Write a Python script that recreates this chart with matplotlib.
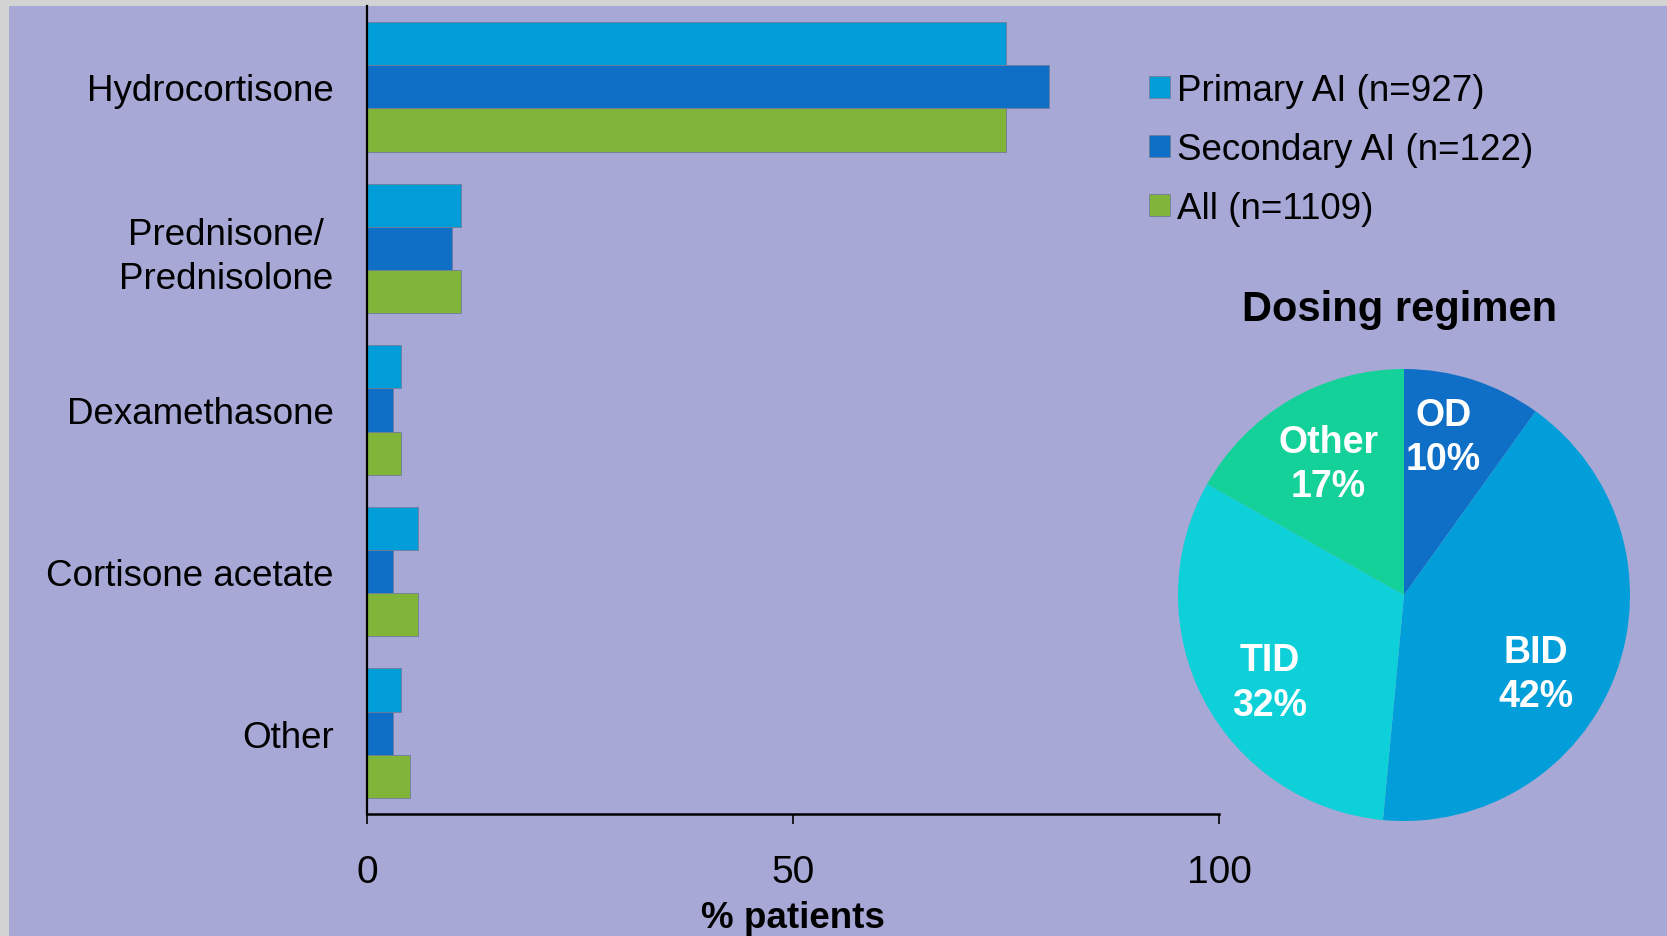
import numpy as np
import matplotlib
matplotlib.use("Agg")
import matplotlib.pyplot as plt
from matplotlib.patches import Rectangle, Patch

plt.rcParams['font.family'] = ['Liberation Sans', 'DejaVu Sans']

# bar chart data (% patients)
drugs = ["Hydrocortisone", "Prednisone/ \nPrednisolone", "Dexamethasone",
         "Cortisone acetate", "Other"]
primary = [75, 11, 4, 6, 4]
secondary = [80, 10, 3, 3, 3]
all_pts = [75, 11, 4, 6, 5]
series_names = ["Primary AI (n=927)", "Secondary AI (n=122)", "All (n=1109)"]
series_colors = ["#009DD9", "#0F6FC6", "#80B539"]
xticks = [0, 50, 100]

# pie data
regimens = ["OD", "BID", "TID", "Other"]
regimen_pct = [10, 42, 32, 17]
regimen_colors = ["#0F6FC6", "#029ED9", "#0DD0D9", "#14D19A"]

bg = "#A7A8D5"
W, H = 1667, 937
fig = plt.figure(figsize=(W/100, H/100), dpi=100)
fig.patch.set_facecolor("#D3D3D3")
fig.add_artist(Rectangle((9/W, 0), 1, 1 - 7/H, transform=fig.transFigure,
                         facecolor=bg, edgecolor="none", zorder=-5))

# ---- bars ----
ax = fig.add_axes([367/W, 1 - 815/H, (1219-367)/W, (815-7)/H])
ax.set_facecolor("none")
y = np.arange(len(drugs))
h = 0.267
for i, (vals, col) in enumerate(zip([primary, secondary, all_pts], series_colors)):
    ax.barh(y + (i-1)*h, vals, height=h, color=col, edgecolor="#6f7c99",
            linewidth=0.6, label=series_names[i])
ax.set_ylim(len(drugs) - 0.5, -0.5)
ax.set_xlim(0, 100)
ax.set_yticks(y)
ax.set_yticklabels(drugs, fontsize=26.5, linespacing=1.32)
ax.set_xticks(xticks)
ax.tick_params(axis='y', length=0, pad=24)
ax.tick_params(axis='x', length=7, width=1.2, pad=22, labelsize=28)
for s in ["top", "right"]:
    ax.spines[s].set_visible(False)
ax.spines["left"].set_linewidth(1.6)
ax.spines["bottom"].set_linewidth(1.8)
ax.set_xlabel("% patients", fontsize=26.5, fontweight="bold", labelpad=7)

handles = [Patch(facecolor=c, edgecolor="#6f7c99", linewidth=0.6) for c in series_colors]
fig.legend(handles, series_names, loc="upper left",
           bbox_to_anchor=(1149/W, 1 - 74/H), frameon=False, fontsize=26.5,
           handlelength=0.57, handleheight=0.57, handletextpad=0.2,
           labelspacing=0.65, borderpad=0, borderaxespad=0)

# ---- pie ----
fig.text(1400/W, 1 - 310/H, "Dosing regimen", fontsize=30, fontweight="bold",
         ha="center", va="center")
R = 226
pax = fig.add_axes([(1404-R)/W, 1 - (596+R)/H, 2*R/W, 2*R/H])
wedges, _ = pax.pie(regimen_pct, colors=regimen_colors, startangle=90,
                    counterclock=False, wedgeprops=dict(linewidth=0))
for w in wedges:
    w.set_clip_on(False)
pax.set_xlim(-1, 1)
pax.set_ylim(-1, 1)
pax.axis("off")

label_ang = [76, -31, -147, 120]
label_r = [0.72, 0.68, 0.71, 0.67]
for name, pct, a, r in zip(regimens, regimen_pct, label_ang, label_r):
    t = np.deg2rad(a)
    pax.text(r*np.cos(t), r*np.sin(t), f"{name}\n{pct}%", color="white",
             fontsize=27, fontweight="bold", ha="center", va="center",
             linespacing=1.3)

fig.savefig("out.png", dpi=100, facecolor=fig.get_facecolor())
